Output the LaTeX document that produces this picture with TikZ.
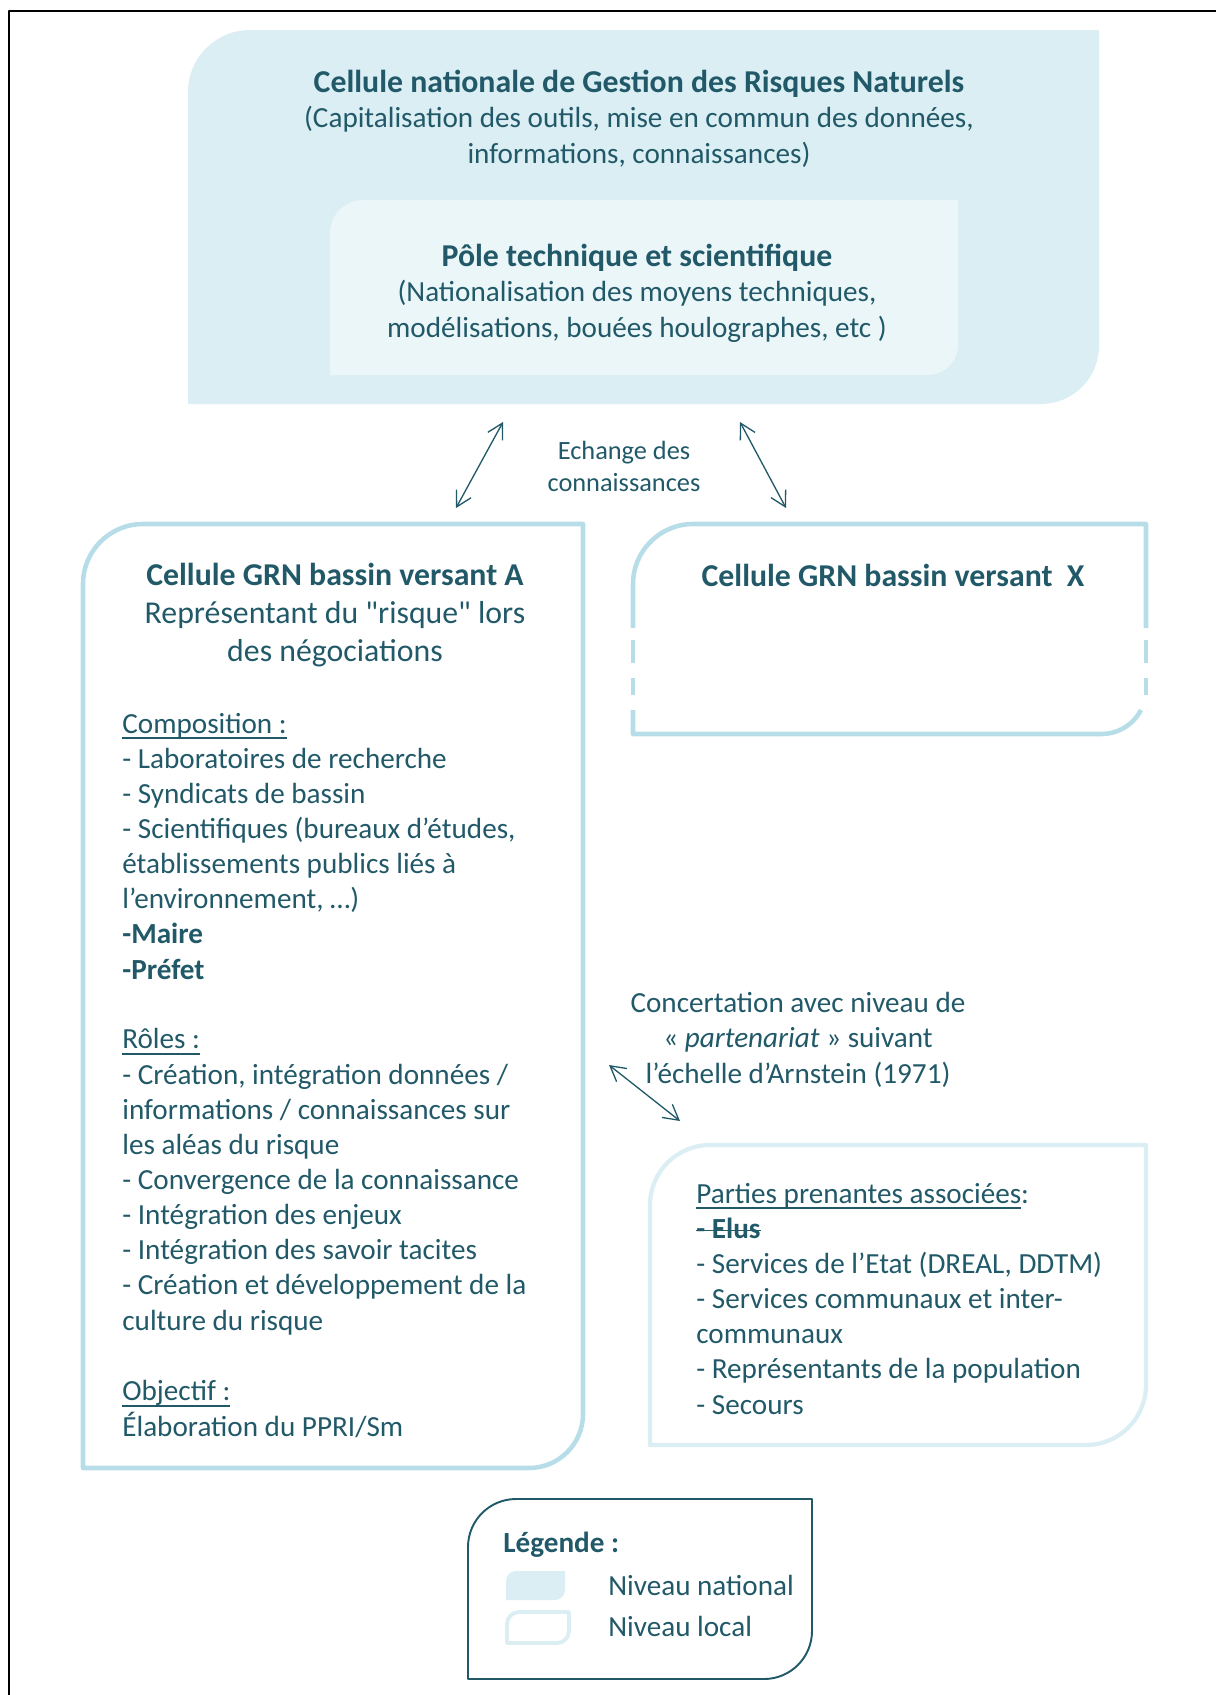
\documentclass[tikz,border=0pt]{standalone}
\usepackage{fontspec}
\setmainfont{Carlito}[Ligatures=TeXOff]
\usetikzlibrary{arrows.meta}

\definecolor{tealtext}{HTML}{215968}
\definecolor{natfill}{HTML}{DAEEF3}
\definecolor{polefill}{HTML}{EBF6F9}
\definecolor{locline}{HTML}{B7DEE8}
\definecolor{paleline}{HTML}{DAEEF3}

\newsavebox{\markbox}
\newcommand{\underl}[1]{\sbox\markbox{#1}\rlap{\rule[-3.2pt]{\wd\markbox}{0.9pt}}\usebox\markbox}
\newcommand{\strikeout}[1]{\sbox\markbox{#1}\rlap{\rule[4pt]{\wd\markbox}{0.9pt}}\usebox\markbox}
\newcommand{\bighead}[1]{{\fontsize{18.1}{20}\selectfont\bfseries #1}}

% box with a round top-left and bottom-right corner: opts, x1, y1, x2, y2, r1, r2
\newcommand{\leafbox}[7]{%
  \path[#1] (#2,#5) -- (#2,{#3+#6}) .. controls (#2,{#3+0.448*#6}) and ({#2+0.448*#6},#3) .. ({#2+#6},#3)
    -- (#4,#3) -- (#4,{#5-#7}) .. controls (#4,{#5-0.448*#7}) and ({#4-0.448*#7},#5) .. ({#4-#7},#5) -- cycle;}

\tikzset{
  bodytext/.style={font=\fontsize{16.6}{20}\selectfont,text=tealtext,inner sep=0pt},
  headtext/.style={font=\fontsize{18.1}{21.6}\selectfont,text=tealtext,inner sep=0pt},
  smalltext/.style={font=\fontsize{15}{18.2}\selectfont,text=tealtext,inner sep=0pt},
  link/.style={<->,line width=0.75pt,draw=tealtext}
}

\begin{document}
\begin{tikzpicture}[x=0.02cm,y=-0.02cm,>={Straight Barb[length=8.5pt,width=9.5pt]},line cap=round,line join=round]
\useasboundingbox (0,0) rectangle (1215,1695);
\coordinate (exA) at (456,508);
\coordinate (exNa) at (503,422);
\coordinate (exNx) at (740,422);
\coordinate (exX) at (786,508);
\coordinate (coA) at (609,1065);
\coordinate (coP) at (680,1121);
\draw[line width=1.2pt,line cap=rect] (9,1695) -- (9,11) -- (1215,11);
\leafbox{fill=natfill}{188}{30}{1099}{404}{62}{58}
\leafbox{fill=polefill}{330}{200}{958}{375}{33}{30}
\leafbox{draw=locline,line width=2.6pt}{83}{524}{583}{1468}{60}{54}
\draw[locline,line width=2.6pt,line cap=butt] (633,628) -- (633,584) .. controls (633,551) and (660,524) .. (693,524) -- (1146,524) -- (1146,628);
\draw[locline,line width=2.6pt,line cap=butt] (633,640) -- (633,663) (633,678) -- (633,695);
\draw[locline,line width=2.6pt,line cap=butt] (1146,640) -- (1146,663) (1146,678) -- (1146,695);
\draw[locline,line width=2.6pt,line cap=butt] (633,710) -- (633,734) -- (1101,734) .. controls (1118,734) and (1133,725) .. (1141,710);
\leafbox{draw=paleline,line width=2.4pt}{650}{1145}{1146}{1445}{60}{60}
\leafbox{draw=tealtext,line width=1.1pt}{468}{1499}{812}{1679}{48}{48}
\leafbox{fill=natfill}{506}{1571}{565}{1600}{10}{10}
\leafbox{draw=paleline,line width=2.2pt}{507}{1612}{569}{1643}{12}{12}
\draw[link] (exA) -- (exNa);
\draw[link] (exNx) -- (exX);
\draw[link] (coA) -- (coP);
\node[bodytext,align=center,anchor=base] (natTitle) at (639,163) {\bighead{Cellule nationale de Gestion des Risques Naturels}\\(Capitalisation des outils, mise en commun des données,\\informations, connaissances)};
\node[bodytext,align=center,anchor=base] (pole) at (637,337) {\bighead{Pôle technique et scientifique}\\(Nationalisation des moyens techniques,\\modélisations, bouées houlographes, etc )};
\node[smalltext,align=center,anchor=base] (echange) at (624,491) {Echange des\\connaissances};
\node[headtext,align=center,anchor=base] (cellA) at (335,661) {\textbf{Cellule GRN bassin versant A}\\Représentant du "risque" lors\\des négociations};
\node[headtext,anchor=base] (cellX) at (893,586) {\textbf{Cellule GRN bassin versant\ \ X}};
\node[bodytext,align=left,anchor=base west] (compA) at (122,979) {\underl{Composition :}\\- Laboratoires de recherche\\- Syndicats de bassin\\- Scientifiques (bureaux d’études,\\établissements publics liés à\\l’environnement, …)\\\textbf{-Maire}\\\textbf{-Préfet}};
\node[bodytext,align=left,anchor=base west] (rolesA) at (122,1330) {\underl{Rôles :}\\- Création, intégration données /\\informations / connaissances sur\\les aléas du risque\\- Convergence de la connaissance\\- Intégration des enjeux\\- Intégration des savoir tacites\\- Création et développement de la\\culture du risque};
\node[bodytext,align=left,anchor=base west] (objA) at (122,1436) {\underl{Objectif :}\\Élaboration du PPRI/Sm};
\node[bodytext,align=center,anchor=base] (concert) at (798,1083) {Concertation avec niveau de\\« \textit{partenariat} » suivant\\l’échelle d’Arnstein (1971)};
\node[bodytext,align=left,anchor=base west] (parties) at (696,1414) {\underl{Parties prenantes associées}:\\\strikeout{\textbf{- Elus}}\\- Services de l’Etat (DREAL, DDTM)\\- Services communaux et inter-\\communaux\\- Représentants de la population\\- Secours};
\node[bodytext,anchor=base west] (legTitle) at (503,1552) {\textbf{Légende :}};
\node[bodytext,anchor=base west] (legNat) at (608,1595) {Niveau national};
\node[bodytext,anchor=base west] (legLoc) at (608,1636) {Niveau local};
\end{tikzpicture}
\end{document}
